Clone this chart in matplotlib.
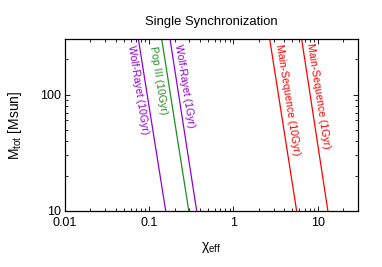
import numpy as np
import matplotlib
matplotlib.use("Agg")
import matplotlib.pyplot as plt

plt.rcParams['font.family'] = ['Liberation Sans', 'DejaVu Sans']
plt.rcParams['mathtext.fontset'] = 'custom'
plt.rcParams['mathtext.rm'] = 'Liberation Sans'
plt.rcParams['mathtext.it'] = 'Liberation Sans:italic'

# total mass endpoints and chi_eff read at those masses
mtot = [10, 300]
labels = ["Wolf-Rayet (10Gyr)", "Pop III (10Gyr)", "Wolf-Rayet (1Gyr)",
          "Main-Sequence (10Gyr)", "Main-Sequence (1Gyr)"]
chi_at_m = [[0.157, 0.0743], [0.295, 0.1406], [0.366, 0.1766],
            [5.62, 2.69], [13.2, 6.44]]
colors = ['#9400d3', '#228b22', '#9400d3', '#ff0000', '#ff0000']
# label centres (chi, Mtot)
lab_x = [0.0745, 0.129, 0.262, 4.43, 10.2]
lab_y = [109.7, 133, 117.5, 90, 96.4]

fig = plt.figure(figsize=(3.82, 2.67), dpi=100)
ax = fig.add_axes([0.170, 0.210, 0.767, 0.644])

for c, col in zip(chi_at_m, colors):
    ax.plot(c, mtot, color=col, lw=0.9)
for t, x, y, col in zip(labels, lab_x, lab_y, colors):
    ax.text(x, y, t, color=col, fontsize=7.6, rotation=-81,
            rotation_mode='anchor', ha='center', va='center')

ax.set_xscale('log')
ax.set_yscale('log')
ax.set_xlim(0.01, 30)
ax.set_ylim(10, 300)
ax.set_xticks([0.01, 0.1, 1, 10])
ax.set_xticklabels(['0.01', '0.1', '1', '10'])
ax.set_yticks([10, 100])
ax.set_yticklabels(['10', '100'])
ax.tick_params(which='both', direction='in', top=True, right=True,
               labelsize=9, width=0.6)
ax.tick_params(which='major', length=3.5, pad=3)
ax.tick_params(axis='x', which='major', pad=4.5)
ax.tick_params(which='minor', length=2)
for s in ax.spines.values():
    s.set_linewidth(0.9)

ax.set_xlabel('χ$_{\\rm eff}$', fontsize=10, labelpad=8)
ax.set_ylabel('M$_{\\rm tot}$ [Msun]', fontsize=10, labelpad=11)
ax.set_title('Single Synchronization', fontsize=9.4, pad=10)

fig.savefig('out.png', dpi=100)
